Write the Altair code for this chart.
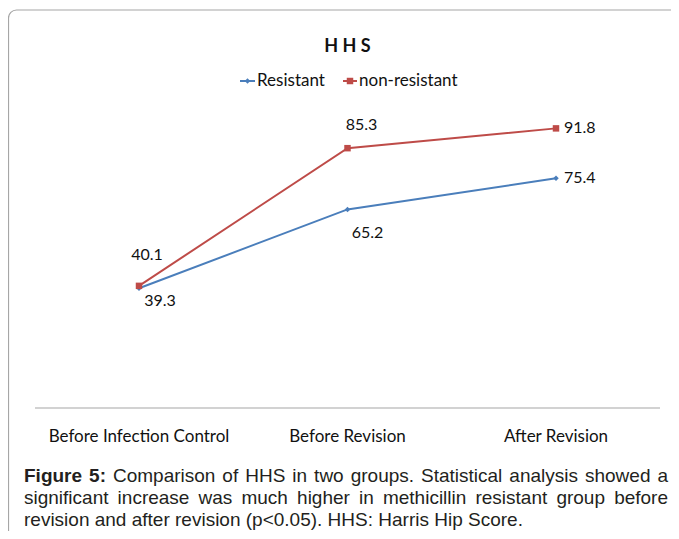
import altair as alt
import pandas as pd

# ---------------- data ----------------
categories = ["Before Infection Control", "Before Revision", "After Revision"]
series = ["Resistant", "non-resistant"]
resistant = [39.3, 65.2, 75.4]
non_resistant = [40.1, 85.3, 91.8]
colors = ["#4a7ebb", "#be4b48"]
chart_title = "H H S"
caption_lines = [
    [("Figure", True), ("5:", True), ("Comparison", False), ("of", False), ("HHS", False),
     ("in", False), ("two", False), ("groups.", False), ("Statistical", False),
     ("analysis", False), ("showed", False), ("a", False)],
    [(w, False) for w in "significant increase was much higher in methicillin resistant group before".split()],
    [(w, False) for w in "revision and after revision (p<0.05). HHS: Harris Hip Score.".split()],
]

# ---------------- layout ----------------
W, H = 663, 523
X_RANGE = [131, 548]
Y_RANGE = [400, 95.4]
FONT = "Lato"
CAP_FONT = "Liberation Sans"
CAP_FS = 19
CAP_LEFT, CAP_RIGHT = 16, 660
CAP_BASE = [474, 496, 518]

df = pd.DataFrame({
    "cat": categories * 2,
    "idx": list(range(len(categories))) * 2,
    "series": [s for s in series for _ in categories],
    "value": resistant + non_resistant,
})

xs = alt.X("cat:N", scale=alt.Scale(type="point", domain=categories, range=X_RANGE, padding=0), axis=None)
ys = alt.Y("value:Q", scale=alt.Scale(domain=[0, 100], range=Y_RANGE), axis=None)
col = alt.Color("series:N", scale=alt.Scale(domain=series, range=colors), legend=None)

one = pd.DataFrame({"a": [0]})

frame = alt.Chart(one).mark_rect(fill=None, stroke="#a6a6a6", strokeWidth=1.2, cornerRadius=8).encode(
    x=alt.value(0.5), x2=alt.value(W + 30), y=alt.value(2), y2=alt.value(H + 30))

axis_line = alt.Chart(pd.DataFrame({"value": [0]})).mark_rule(color="#c3c3c3", strokeWidth=1.5).encode(
    x=alt.value(27), x2=alt.value(652), y=ys)

lines = alt.Chart(df).mark_line(strokeWidth=2).encode(x=xs, y=ys, color=col, order="idx:Q")

pts_res = alt.Chart(df).transform_filter(alt.datum.series == series[0]).mark_point(
    shape="diamond", filled=True, size=30, opacity=1, color=colors[0]).encode(x=xs, y=ys)
pts_non = alt.Chart(df).transform_filter(alt.datum.series == series[1]).mark_square(
    size=42, opacity=1, color=colors[1]).encode(x=xs, y=ys)


def label(s, c, dx, dy, align="center"):
    return alt.Chart(df).transform_filter(
        (alt.datum.series == s) & (alt.datum.cat == c)
    ).mark_text(dx=dx, dy=dy, align=align, baseline="middle", font=FONT, fontSize=16, color="#111").encode(
        x=xs, y=ys, text=alt.Text("value:Q", format=".1f"))


labels = [
    label(series[1], categories[0], 8, -31),
    label(series[1], categories[1], 14, -23),
    label(series[1], categories[2], 8, 0, "left"),
    label(series[0], categories[0], 21, 13),
    label(series[0], categories[1], 20, 24),
    label(series[0], categories[2], 8, 0, "left"),
]

cat_labels = alt.Chart(pd.DataFrame({"cat": categories})).mark_text(
    font=FONT, fontSize=17, baseline="middle", color="#111").encode(
    x=xs, y=alt.value(429), text="cat:N")

title = alt.Chart(one).mark_text(font=FONT, fontSize=18, fontWeight="bold", baseline="middle", color="#111").encode(
    x=alt.value(339.5), y=alt.value(39), text=alt.value(chart_title))

# legend (manual)
leg = []
leg_pos = [(232, 247, 249), (335, 349, 351)]
for i, s in enumerate(series):
    x0, x1, xt = leg_pos[i]
    leg.append(alt.Chart(one).mark_rule(color=colors[i], strokeWidth=2).encode(
        x=alt.value(x0), x2=alt.value(x1), y=alt.value(73)))
    if i == 0:
        leg.append(alt.Chart(one).mark_point(shape="diamond", filled=True, size=30, opacity=1, color=colors[i]).encode(
            x=alt.value((x0 + x1) / 2), y=alt.value(73)))
    else:
        leg.append(alt.Chart(one).mark_square(size=42, opacity=1, color=colors[i]).encode(
            x=alt.value((x0 + x1) / 2), y=alt.value(73)))
    leg.append(alt.Chart(one).mark_text(font=FONT, fontSize=17, align="left", baseline="middle", color="#111").encode(
        x=alt.value(xt), y=alt.value(73), text=alt.value(s)))

# caption with justification (Helvetica/Arial metrics, per 1000 em)
REG = dict(zip("abcdefghijklmnopqrstuvwxyz",
               [556, 556, 500, 556, 556, 278, 556, 556, 222, 222, 500, 222, 833, 556, 556, 556, 556, 333, 500, 278, 556, 500, 722, 500, 500, 500]))
REG.update(dict(zip("ABCDEFGHIJKLMNOPQRSTUVWXYZ",
                    [667, 667, 722, 722, 667, 611, 778, 722, 278, 500, 667, 556, 833, 722, 778, 667, 778, 722, 667, 611, 722, 667, 944, 667, 667, 611])))
REG.update({d: 556 for d in "0123456789"})
REG.update({" ": 278, ".": 278, ":": 278, "(": 333, ")": 333, "<": 584, ",": 278, "-": 333})
BOLD = dict(REG)
BOLD.update({"F": 611, "i": 278, "g": 611, "u": 611, "r": 389, "e": 556, "5": 556, ":": 333})


def wwidth(w, b):
    t = BOLD if b else REG
    return sum(t.get(ch, 556) for ch in w) * CAP_FS / 1000.0


rows = []
for li, words in enumerate(caption_lines):
    widths = [wwidth(w, b) for w, b in words]
    if li < len(caption_lines) - 1:
        gap = (CAP_RIGHT - CAP_LEFT - sum(widths)) / (len(words) - 1)
    else:
        gap = 278 * CAP_FS / 1000.0
    x = CAP_LEFT
    for (w, b), wd in zip(words, widths):
        rows.append({"t": w, "px": x, "py": CAP_BASE[li], "b": "bold" if b else "normal"})
        x += wd + gap
cap_df = pd.DataFrame(rows)


def cap_layer(weight):
    return alt.Chart(cap_df).transform_filter(alt.datum.b == weight).mark_text(
        font=CAP_FONT, fontSize=CAP_FS, fontWeight=weight, align="left", baseline="alphabetic",
        color="#231f20").encode(
        x=alt.X("px:Q", scale=None), y=alt.Y("py:Q", scale=None), text="t:N")


chart = alt.layer(
    frame, axis_line, lines, pts_res, pts_non, *labels, cat_labels, title, *leg,
    cap_layer("normal"), cap_layer("bold")
).properties(
    width=W, height=H, autosize=alt.AutoSizeParams(type="none"), padding=0
).configure_view(stroke=None)

chart.save("out.html", embed_options={"renderer": "svg", "actions": False})
